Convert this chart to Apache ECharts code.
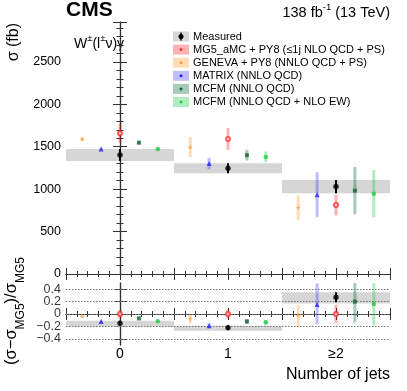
<!DOCTYPE html>
<html>
<head>
<meta charset="utf-8">
<script src="https://cdn.jsdelivr.net/npm/echarts@6/dist/echarts.min.js"></script>
<style>
  html, body { margin: 0; padding: 0; background: #fff; }
  #chart { width: 407px; height: 391px; }
</style>
</head>
<body>
<div id="chart"></div>
<script>
// bin labels
const categories = ["0", "1", "≥2"];

// upper panel: cross sections (fb) and half-widths of the error bars
const measured = [1403, 1246, 1030];
const measuredErr = [70, 59, 78];
const mg5 = [1659, 1592, 814];
const mg5Err = [110, 128, 125];
const geneva = [1588, 1494, 782];
const genevaErr = [25, 118, 147];
const matrix = [1474, 1301, 935];
const matrixErr = [12, 67, 265];
const mcfm = [1548, 1400, 983];
const mcfmErr = [12, 63, 279];
const mcfmEw = [1474, 1380, 947];
const mcfmEwErr = [12, 63, 279];

// lower panel: (sigma - sigma_MG5) / sigma_MG5, errors down / up
const measuredRatio = [-0.15, -0.22, 0.27];
const measuredRatioErr = [0.04, 0.04, 0.08];
const bandRatioLo = [-0.205, -0.27, 0.17];
const bandRatioHi = [-0.11, -0.19, 0.35];
const mg5Ratio = [0, 0, 0];
const mg5RatioDn = [0.07, 0.08, 0.15];
const mg5RatioUp = [0.07, 0.08, 0.15];
const genevaRatio = [-0.04, -0.075, -0.02];
const genevaRatioDn = [0.015, 0.075, 0.19];
const genevaRatioUp = [0.015, 0.075, 0.16];
const matrixRatio = [-0.12, -0.19, 0.155];
const matrixRatioDn = [0.01, 0.04, 0.32];
const matrixRatioUp = [0.01, 0.04, 0.34];
const mcfmRatio = [-0.07, -0.12, 0.2];
const mcfmRatioDn = [0.01, 0.04, 0.335];
const mcfmRatioUp = [0.01, 0.04, 0.34];
const mcfmEwRatio = [-0.115, -0.135, 0.16];
const mcfmEwRatioDn = [0.01, 0.04, 0.34];
const mcfmEwRatioUp = [0.01, 0.04, 0.34];

const ratioTicks = [-0.4, -0.2, 0, 0.2, 0.4];

const legendNames = [
  "Measured",
  "MG5_aMC + PY8 (≤1j NLO QCD + PS)",
  "GENEVA + PY8 (NNLO QCD + PS)",
  "MATRIX (NNLO QCD)",
  "MCFM (NNLO QCD)",
  "MCFM (NNLO QCD + NLO EW)",
];

const FONT = "Liberation Sans, Arial, Helvetica, sans-serif";

// predictions, in legend order after "Measured"
const models = [
  { name: legendNames[1], val: mg5, err: mg5Err, r: mg5Ratio, rdn: mg5RatioDn, rup: mg5RatioUp,
    color: "#ff3333", bar: "rgba(255,0,0,0.3)", symbol: "emptyCircle", size: 4, dx: 0 },
  { name: legendNames[2], val: geneva, err: genevaErr, r: genevaRatio, rdn: genevaRatioDn, rup: genevaRatioUp,
    color: "#ff9933", bar: "rgba(255,153,51,0.35)", symbol: "path://M0,-5L1.4,-1.4L5,0L1.4,1.4L0,5L-1.4,1.4L-5,0L-1.4,-1.4Z", size: 5, dx: -0.35 },
  { name: legendNames[3], val: matrix, err: matrixErr, r: matrixRatio, rdn: matrixRatioDn, rup: matrixRatioUp,
    color: "#2222ff", bar: "rgba(40,40,255,0.3)", symbol: "triangle", size: 5, dx: -0.175 },
  { name: legendNames[4], val: mcfm, err: mcfmErr, r: mcfmRatio, rdn: mcfmRatioDn, rup: mcfmRatioUp,
    color: "#116633", bar: "rgba(0,102,51,0.35)", symbol: "rect", size: 4, dx: 0.175 },
  { name: legendNames[5], val: mcfmEw, err: mcfmEwErr, r: mcfmEwRatio, rdn: mcfmEwRatioDn, rup: mcfmEwRatioUp,
    color: "#22cc44", bar: "rgba(30,200,70,0.35)", symbol: "circle", size: 4.5, dx: 0.35 },
];

function errorBarSeries(name, xIdx, yIdx, data, stroke, width, z) {
  return {
    name,
    type: "custom",
    xAxisIndex: xIdx,
    yAxisIndex: yIdx,
    clip: true,
    z,
    silent: true,
    data,
    renderItem(params, api) {
      const x = api.value(0);
      const p1 = api.coord([x, api.value(1) - api.value(2)]);
      const p2 = api.coord([x, api.value(1) + api.value(3)]);
      return {
        type: "line",
        shape: { x1: p1[0], y1: p1[1], x2: p2[0], y2: p2[1] },
        style: { stroke, lineWidth: width },
      };
    },
  };
}

function bandSeries(xIdx, yIdx, data) {
  return {
    type: "custom",
    xAxisIndex: xIdx,
    yAxisIndex: yIdx,
    clip: true,
    z: 1,
    silent: true,
    data,
    renderItem(params, api) {
      const x = api.value(0);
      const a = api.coord([x - 0.5, api.value(2)]);
      const b = api.coord([x + 0.5, api.value(1)]);
      return {
        type: "rect",
        shape: { x: a[0], y: a[1], width: b[0] - a[0], height: b[1] - a[1] },
        style: { fill: "#d6d6d6" },
      };
    },
  };
}

function markerSeries(name, xIdx, yIdx, data, m) {
  return {
    name,
    type: "scatter",
    xAxisIndex: xIdx,
    yAxisIndex: yIdx,
    symbol: m.symbol,
    symbolSize: m.size,
    itemStyle: { color: m.color, borderColor: m.color, borderWidth: m.symbol === "emptyCircle" ? 1 : 0 },
    z: 5,
    silent: true,
    data,
  };
}

const series = [];
// measured bands
series.push(bandSeries(0, 0, measured.map((v, i) => [i, v - measuredErr[i], v + measuredErr[i]])));
series.push(bandSeries(2, 2, measuredRatio.map((v, i) => [i, bandRatioLo[i], bandRatioHi[i]])));

models.forEach((m) => {
  series.push(errorBarSeries(m.name, 0, 0, m.val.map((v, i) => [i + m.dx, v, m.err[i], m.err[i]]), m.bar, 3, 3));
  series.push(errorBarSeries(m.name, 2, 2, m.r.map((v, i) => [i + m.dx, v, m.rdn[i], m.rup[i]]), m.bar, 3, 3));
  series.push(markerSeries(m.name, 0, 0, m.val.map((v, i) => [i + m.dx, v]), m));
  series.push(markerSeries(m.name, 2, 2, m.r.map((v, i) => [i + m.dx, v]), m));
});

const measStyle = { symbol: "circle", size: 5.5, color: "#000" };
series.push(errorBarSeries("Measured", 0, 0, measured.map((v, i) => [i, v, measuredErr[i], measuredErr[i]]), "#000", 2, 6));
series.push(errorBarSeries("Measured", 2, 2, measuredRatio.map((v, i) => [i, v, measuredRatioErr[i], measuredRatioErr[i]]), "#000", 2, 6));
series.push(Object.assign(markerSeries("Measured", 0, 0, measured.map((v, i) => [i, v]), measStyle), { z: 7 }));
series.push(Object.assign(markerSeries("Measured", 2, 2, measuredRatio.map((v, i) => [i, v]), measStyle), { z: 7 }));

// dotted reference lines in the ratio panel
series.push({
  type: "line",
  xAxisIndex: 2,
  yAxisIndex: 2,
  data: [],
  silent: true,
  markLine: {
    silent: true,
    symbol: "none",
    label: { show: false },
    lineStyle: { color: "#777", type: [1.5, 1.5], width: 1 },
    data: ratioTicks.map((v) => ({ yAxis: v })),
  },
});

const ratioFormat = (v) => (Math.abs(v) < 1e-9 ? "0" : (v < 0 ? "−" : "") + Math.abs(v).toFixed(1));

// ratio tick labels: the axis drops some of them as overlapping, so place them
// as labels of invisible points sitting on the left axis
series.push({
  type: "scatter",
  xAxisIndex: 2,
  yAxisIndex: 2,
  clip: false,
  silent: true,
  symbolSize: 0,
  data: ratioTicks.map((v) => [-0.5, v]),
  label: {
    show: true,
    position: "left",
    distance: 5,
    fontSize: 12.5,
    fontFamily: FONT,
    color: "#000",
    formatter: (p) => ratioFormat(p.value[1]),
  },
  labelLayout: { hideOverlap: false },
});

const axisLine = { show: true, lineStyle: { color: "#333", width: 1.2 } };
const tickStyle = { color: "#333", width: 1 };

function xAxisFor(gridIndex, position, showLabels) {
  return {
    type: "value",
    gridIndex,
    position,
    min: -0.5,
    max: 2.5,
    interval: 0.5,
    axisLine,
    axisTick: { show: true, inside: true, length: 6, lineStyle: tickStyle },
    minorTick: { show: true, splitNumber: 5, length: 3, lineStyle: tickStyle },
    splitLine: { show: false },
    axisLabel: {
      show: showLabels,
      margin: 2,
      fontSize: 14,
      fontFamily: FONT,
      color: "#000",
      formatter: (v) => (Math.abs(v - Math.round(v)) < 1e-6 ? categories[Math.round(v)] : ""),
    },
  };
}

function topY(position, showLabels) {
  return {
    type: "value",
    gridIndex: 0,
    position,
    min: 0,
    max: 2970,
    interval: 500,
    axisLine,
    axisTick: { show: true, inside: true, length: 7, lineStyle: tickStyle },
    minorTick: { show: true, splitNumber: 5, length: 3.5, lineStyle: tickStyle },
    splitLine: { show: false },
    axisLabel: {
      show: showLabels,
      showMaxLabel: false,
      margin: 5,
      fontSize: 12.5,
      fontFamily: FONT,
      color: "#000",
      formatter: (v) => String(v),
    },
  };
}

function ratioY(position) {
  return {
    type: "value",
    gridIndex: 1,
    position,
    min: -0.5,
    max: 0.5,
    axisLine,
    axisTick: { show: true, inside: true, length: 6, lineStyle: tickStyle, customValues: ratioTicks },
    splitLine: { show: false },
    axisLabel: { show: false },
  };
}

// legend drawn by hand: translucent box, small marker, label
const legendGraphics = [];
const legendX = 173;
const legendY0 = 36.5;
const legendDy = 13.1;
legendNames.forEach((name, i) => {
  const cy = legendY0 + i * legendDy;
  const m = i === 0 ? null : models[i - 1];
  legendGraphics.push({
    type: "rect",
    shape: { x: legendX, y: cy - 5, width: 16, height: 10 },
    style: { fill: m ? m.bar : "#d6d6d6" },
  });
  if (m) {
    legendGraphics.push({
      type: "circle",
      shape: { cx: legendX + 8, cy, r: 1.5 },
      style: { fill: m.color },
    });
  } else {
    legendGraphics.push({
      type: "line",
      shape: { x1: legendX + 8, y1: cy - 4, x2: legendX + 8, y2: cy + 4 },
      style: { stroke: "#000", lineWidth: 1.5 },
    });
    legendGraphics.push({
      type: "circle",
      shape: { cx: legendX + 8, cy, r: 2.5 },
      style: { fill: "#000" },
    });
  }
  legendGraphics.push({
    type: "text",
    x: legendX + 20,
    y: cy,
    style: { text: name, font: `11px ${FONT}`, fill: "#000", textVerticalAlign: "middle" },
  });
});

const chart = echarts.init(document.getElementById("chart"), null, { renderer: "canvas" });
chart.setOption({
  animation: false,
  backgroundColor: "#fff",
  grid: [
    { left: 66, right: 17, top: 22, height: 252 },
    { left: 66, right: 17, top: 283, height: 62 },
  ],
  xAxis: [
    xAxisFor(0, "bottom", false),
    xAxisFor(0, "top", false),
    xAxisFor(1, "bottom", true),
    xAxisFor(1, "top", false),
  ],
  yAxis: [
    topY("left", true),
    topY("right", false),
    ratioY("left"),
    ratioY("right"),
  ],
  series,
  graphic: [
    {
      type: "text",
      left: 66,
      top: 0,
      style: { text: "CMS", font: `bold 21px ${FONT}`, fill: "#000" },
    },
    {
      type: "text",
      right: 17,
      top: 2,
      style: {
        text: "{n|138 fb}{sup|-1}{n| (13 TeV)}",
        fill: "#000",
        rich: {
          n: { fontSize: 14.5, fontFamily: FONT, lineHeight: 18, verticalAlign: "bottom" },
          sup: { fontSize: 9.5, fontFamily: FONT, lineHeight: 18, verticalAlign: "top" },
        },
      },
    },
    {
      type: "text",
      x: 74,
      y: 42,
      style: {
        text: "{n|W}{sup|±}{n|(l}{sup|±}{n|ν)γ}",
        fill: "#000",
        textVerticalAlign: "middle",
        rich: {
          n: { fontSize: 14, fontFamily: FONT, lineHeight: 18, verticalAlign: "bottom" },
          sup: { fontSize: 9.5, fontFamily: FONT, lineHeight: 18, verticalAlign: "top" },
        },
      },
    },
    {
      type: "text",
      x: 14,
      y: 23,
      rotation: Math.PI / 2,
      style: { text: "σ (fb)", font: `16px ${FONT}`, fill: "#000", textAlign: "right", textVerticalAlign: "middle" },
    },
    {
      type: "text",
      x: 15,
      y: 311,
      rotation: Math.PI / 2,
      style: {
        text: "{n|(σ−σ}{sub|MG5}{n|)/σ}{sub|MG5}",
        fill: "#000",
        textAlign: "center",
        textVerticalAlign: "middle",
        rich: {
          n: { fontSize: 16.5, fontFamily: FONT, lineHeight: 24, verticalAlign: "top" },
          sub: { fontSize: 12, fontFamily: FONT, lineHeight: 24, verticalAlign: "bottom" },
        },
      },
    },
    {
      type: "text",
      right: 17,
      top: 367,
      style: { text: "Number of jets", font: `16px ${FONT}`, fill: "#000" },
    },
    ...legendGraphics,
  ],
});
</script>
</body>
</html>
